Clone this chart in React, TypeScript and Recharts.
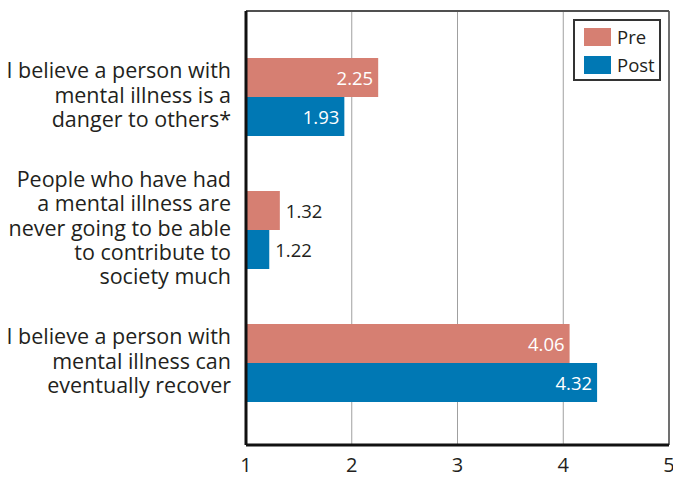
import { BarChart, Bar, XAxis, YAxis, CartesianGrid, LabelList, ReferenceLine } from "recharts";

const statements = [
  "I believe a person with|mental illness is a|danger to others*",
  "People who have had|a mental illness are|never going to be able|to contribute to|society much",
  "I believe a person with|mental illness can|eventually recover",
];
const preScores = [2.25, 1.32, 4.06];
const postScores = [1.93, 1.22, 4.32];
const xTicks = [1, 2, 3, 4, 5];

const COLORS = { pre: "#d67f72", post: "#0078b4", text: "#231f20", grid: "#a0a0a0", frame: "#505050" };
const FONT = "'Open Sans', sans-serif";

const data = statements.map((s, i) => ({ name: s, pre: preScores[i], post: postScores[i] }));

function StatementTick({ x, y, payload }: any) {
  const lines: string[] = String(payload.value).split("|");
  const lh = 24.3;
  const start = y - 3 - ((lines.length - 1) * lh) / 2;
  return (
    <text x={x - 7} y={start} textAnchor="end" fontSize={21.5} fill={COLORS.text} fontFamily={FONT} dominantBaseline="central">
      {lines.map((l, i) => (
        <tspan key={i} x={x - 7} y={start + i * lh}>
          {l}
        </tspan>
      ))}
    </text>
  );
}

function ValueLabel(props: any) {
  const { x, y, width, height, value } = props;
  const inside = value > 1.5;
  const end = x + width;
  return (
    <text
      x={inside ? end - 5 : end + 6}
      y={y + height / 2}
      textAnchor={inside ? "end" : "start"}
      dominantBaseline="central"
      fontSize={18.5}
      fontFamily={FONT}
      fill={inside ? "#fff" : COLORS.text}
    >
      {value.toFixed(2)}
    </text>
  );
}

function LegendBox() {
  const items = [
    { label: "Pre", color: COLORS.pre },
    { label: "Post", color: COLORS.post },
  ];
  return (
    <div
      style={{
        position: "absolute",
        left: 573,
        top: 19,
        border: "2px solid #333",
        width: 88,
        height: 62,
        boxSizing: "border-box",
        padding: "6px 0 0 9px",
        background: "#fff",
      }}
    >
      {items.map((it) => (
        <div key={it.label} style={{ display: "flex", alignItems: "center", height: 20, marginBottom: 8 }}>
          <span style={{ width: 27, height: 18, background: it.color, display: "inline-block", marginRight: 6 }} />
          <span style={{ fontFamily: FONT, fontSize: 18.5, color: COLORS.text, lineHeight: "20px" }}>{it.label}</span>
        </div>
      ))}
    </div>
  );
}

export default function App() {
  return (
    <div style={{ position: "absolute", left: 0, top: 0, width: 673, height: 477, background: "#fff" }}>
      <BarChart
        width={673}
        height={477}
        data={data}
        layout="vertical"
        margin={{ top: 9, right: 4, left: 0, bottom: 0 }}
        barSize={39}
        barGap={0}
      >
        <CartesianGrid horizontal={false} stroke={COLORS.grid} strokeWidth={1} />
        <XAxis
          type="number"
          domain={[1, 5]}
          ticks={xTicks}
          allowDataOverflow
          height={32}
          axisLine={{ stroke: "#111", strokeWidth: 3 }}
          tickLine={false}
          tick={{ fontSize: 20, fill: COLORS.text, fontFamily: FONT }}
          tickMargin={7}
          interval={0}
        />
        {/* top frame line of the plot area */}
        <XAxis
          xAxisId="top"
          orientation="top"
          type="number"
          domain={[1, 5]}
          allowDataOverflow
          height={2}
          tick={false}
          tickLine={false}
          axisLine={{ stroke: COLORS.frame, strokeWidth: 2 }}
        />
        <YAxis
          type="category"
          dataKey="name"
          width={246}
          axisLine={{ stroke: "#111", strokeWidth: 3 }}
          tickLine={false}
          tick={<StatementTick />}
          padding={{ top: 19, bottom: 16 }}
          interval={0}
        />
        <ReferenceLine x={5} stroke={COLORS.frame} strokeWidth={1.5} />
        <Bar dataKey="pre" name="Pre" fill={COLORS.pre} isAnimationActive={false}>
          <LabelList dataKey="pre" content={<ValueLabel />} />
        </Bar>
        <Bar dataKey="post" name="Post" fill={COLORS.post} isAnimationActive={false}>
          <LabelList dataKey="post" content={<ValueLabel />} />
        </Bar>
      </BarChart>
      <LegendBox />
    </div>
  );
}
